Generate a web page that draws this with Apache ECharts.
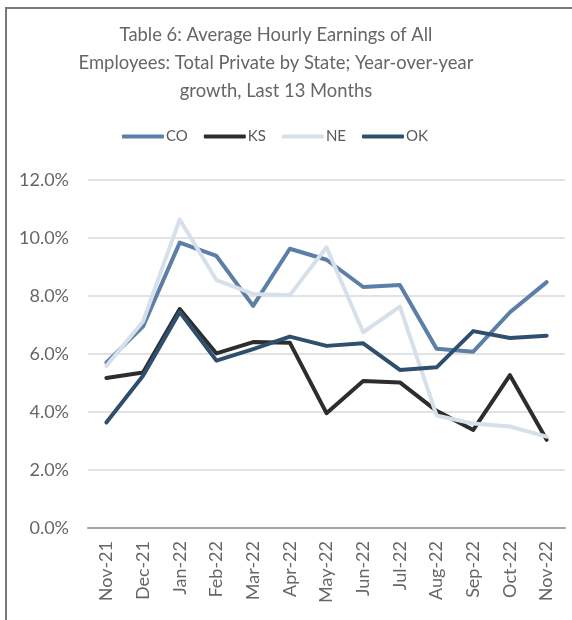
<!DOCTYPE html>
<html>
<head>
<meta charset="utf-8">
<script src="https://cdn.jsdelivr.net/npm/echarts@6/dist/echarts.min.js"></script>
<style>
  body { margin: 0; background: #fff; }
  #chart { width: 572px; height: 620px; }
  .frame {
    position: absolute; left: 5px; top: 7px; width: 567px; height: 613px;
    border-left: 2px solid #7a7a7a; border-top: 2px solid #7a7a7a;
    pointer-events: none;
  }
</style>
</head>
<body>
<div id="chart"></div>
<div class="frame"></div>
<script>
const months = ['Nov-21', 'Dec-21', 'Jan-22', 'Feb-22', 'Mar-22', 'Apr-22', 'May-22',
  'Jun-22', 'Jul-22', 'Aug-22', 'Sep-22', 'Oct-22', 'Nov-22'];
// yoy growth, percent
const co = [5.70, 6.95, 9.84, 9.38, 7.66, 9.63, 9.25, 8.31, 8.38, 6.18, 6.08, 7.44, 8.48];
const ks = [5.17, 5.36, 7.55, 6.02, 6.41, 6.39, 3.96, 5.07, 5.02, 4.04, 3.38, 5.27, 3.04];
const ne = [5.59, 7.12, 10.64, 8.55, 8.07, 8.03, 9.68, 6.75, 7.63, 3.88, 3.60, 3.50, 3.15];
const ok = [3.64, 5.25, 7.45, 5.77, 6.17, 6.60, 6.28, 6.37, 5.45, 5.54, 6.79, 6.55, 6.63];

const myChart = echarts.init(document.getElementById('chart'));
const font = 'Lato, "Open Sans", sans-serif';

function line(name, data, color) {
  return {
    name: name,
    type: 'line',
    data: data,
    symbol: 'none',
    lineStyle: { width: 4, color: color, cap: 'round', join: 'round' },
    itemStyle: { color: color }
  };
}

const option = {
  animation: false,
  title: {
    text: 'Table 6: Average Hourly Earnings of All\nEmployees: Total Private by State; Year-over-year\ngrowth, Last 13 Months',
    left: 271,
    textAlign: 'center',
    top: 16,
    textStyle: { fontFamily: font, fontSize: 18.4, fontWeight: 'normal', color: '#666666', lineHeight: 28 }
  },
  legend: {
    top: 124,
    left: 117,
    itemWidth: 42,
    itemHeight: 4,
    itemGap: 16,
    icon: 'roundRect',
    textStyle: { fontFamily: font, fontSize: 15, color: '#595959', padding: [0, 0, 0, -3] },
    data: ['CO', 'KS', 'NE', 'OK']
  },
  grid: { left: 88, right: 7, top: 180, bottom: 92 },
  xAxis: {
    type: 'category',
    data: months,
    axisLine: { lineStyle: { color: '#a6a6a6', width: 2 } },
    axisTick: { show: false },
    axisLabel: { rotate: 90, fontFamily: font, fontSize: 18, color: '#666666', margin: 13 }
  },
  yAxis: {
    type: 'value',
    min: 0,
    max: 12,
    interval: 2,
    axisLine: { show: false },
    axisTick: { show: false },
    splitLine: { lineStyle: { color: '#d9d9d9', width: 1.5 } },
    axisLabel: {
      fontFamily: font, fontSize: 18, color: '#666666', margin: 19,
      formatter: (v) => v.toFixed(1) + '%'
    }
  },
  series: [
    line('CO', co, '#5b7fa6'),
    line('KS', ks, '#2d2d2d'),
    line('NE', ne, '#d7e0ea'),
    line('OK', ok, '#2f4f6e')
  ]
};
myChart.setOption(option);
</script>
</body>
</html>
